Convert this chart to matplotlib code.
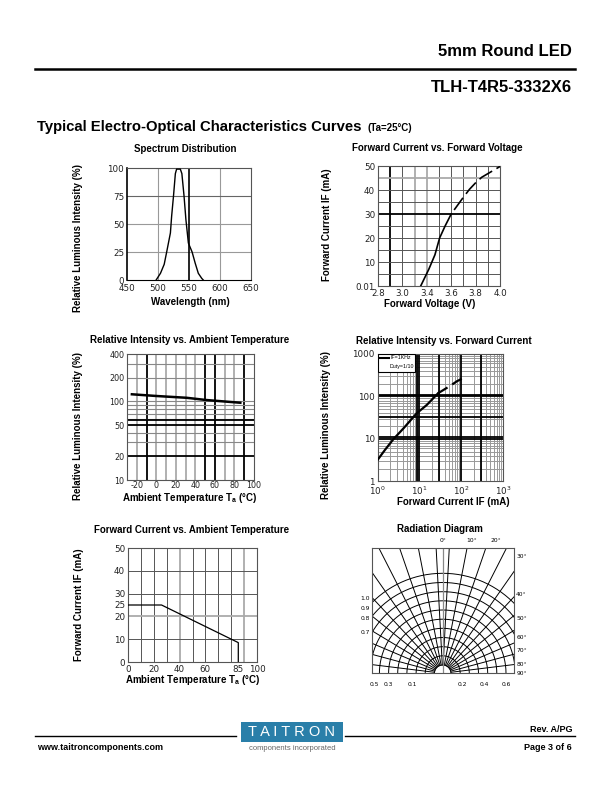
import numpy as np
import matplotlib
matplotlib.use('Agg')
import matplotlib.pyplot as plt
from matplotlib.patches import Rectangle
from matplotlib.lines import Line2D

W, H = 612, 792
plt.rcParams['font.family'] = ['Liberation Sans', 'DejaVu Sans']
plt.rcParams['axes.unicode_minus'] = False
plt.rcParams['mathtext.fontset'] = 'custom'
plt.rcParams['mathtext.rm'] = 'Liberation Sans:bold'
plt.rcParams['mathtext.sf'] = 'DejaVu Sans'

# ---- data ----
# spectrum distribution
wavelength = [497, 504, 510, 514, 520, 522, 525, 528, 530, 536, 538.5, 542, 545, 549, 555, 560, 565, 570.5, 573]
spectrum = [0, 6, 14, 25, 42, 57, 75, 95, 99, 99, 95, 75, 54, 33, 25, 15, 6, 1.5, 0]

# forward current vs forward voltage
vf_solid = [3.22, 3.30, 3.36, 3.406, 3.46, 3.52]
if_solid = [0, 7, 13, 20, 25, 30]
vf_dash = [3.52, 3.58, 3.64, 3.70, 3.76, 3.82, 3.90, 4.0]
if_dash = [30, 33.5, 37, 40.3, 43, 45.3, 47.3, 49.8]
vf_ticks = [2.8, 3.04, 3.28, 3.52, 3.76, 4.0]
vf_labels = ['2.8', '3.0', '3.4', '3.6', '3.8', '4.0']
if_ticks = [0, 10, 20, 30, 40, 50]
if_labels = ['0.01', '10', '20', '30', '40', '50']

# relative intensity vs ambient temperature
temp_c = [-25, 0, 31, 51, 86]
rel_temp = [123, 117, 111, 104, 96]

# relative intensity vs forward current
if_log_solid = [1, 1.5, 2.4, 4.2, 8.6, 15, 28]
rel_log_solid = [3.2, 5.5, 9.9, 17.9, 40, 63, 119]
if_log_dash = [28, 54, 80, 125]
rel_log_dash = [119, 177, 230, 285]

# forward current derating
ta_derate = [0, 26, 85.5, 85.5]
if_derate = [25, 25, 8.5, 0]

# radiation diagram grid
ring_radius = [0.083, 0.175, 0.266, 0.358, 0.45, 0.541, 0.633, 0.725, 0.816, 0.908, 1.0]
ray_angle = [3, 11, 19, 27, 35, 43, 51, 59, 67, 75, 83]

fig = plt.figure(figsize=(W / 100, H / 100), dpi=100)


def px_axes(l, t, r, b):
    return fig.add_axes([l / W, 1 - b / H, (r - l) / W, (b - t) / H])


def ftext(x, y, s, **kw):
    fig.text(x / W, 1 - y / H, s, **kw)


def fline(x0, x1, y, lw):
    fig.add_artist(Line2D([x0 / W, x1 / W], [1 - y / H, 1 - y / H], lw=lw, color='black'))


def base(ax, size=6.3, xpad=3):
    ax.tick_params(length=0, pad=2, labelsize=size, labelcolor='#222')
    ax.tick_params(axis='x', pad=xpad)
    for lab in ax.get_xticklabels() + ax.get_yticklabels():
        lab.set_family('DejaVu Sans')
    for s in ax.spines.values():
        s.set_color('#555')
        s.set_linewidth(0.8)


DARK = dict(color='#555', lw=0.7, zorder=1)
LIGHT = dict(color='#aaa', lw=1.3, zorder=1)
BLACK = dict(color='black', lw=1.3, zorder=1)
TITLE = dict(fontsize=7, fontweight='bold', ha='center', va='center')
LABEL = dict(fontsize=7, fontweight='bold', ha='center', va='center')

# ---- header ----
ftext(572, 52, '5mm Round LED', fontsize=12, fontweight='bold', ha='right', va='center')
fline(35, 575, 69, 1.8)
ftext(572, 87, 'TLH-T4R5-3332X6', fontsize=12, fontweight='bold', ha='right', va='center')
ftext(37, 127, 'Typical Electro-Optical Characteristics Curves', fontsize=10.7, fontweight='bold',
      ha='left', va='center')
ftext(368, 128, '(Ta=25°C)', fontsize=7, fontweight='bold', ha='left', va='center')

# ---- spectrum distribution ----
ax = px_axes(127, 168, 251, 280)
ax.plot(wavelength, spectrum, color='black', lw=1.0, zorder=3)
ax.set_xlim(450, 650)
ax.set_ylim(0, 100)
ax.set_xticks([450, 500, 550, 600, 650])
ax.set_yticks([0, 25, 50, 75, 100])
for v in [500, 600]:
    ax.axvline(v, color='#999', lw=0.8, zorder=1)
ax.axvline(550, color='black', lw=1.2, zorder=2)
for v in [25, 50]:
    ax.axhline(v, color='#999', lw=0.8, zorder=1)
ax.axhline(75, color='#666', lw=0.8, zorder=1)
base(ax)
ax.spines['left'].set_color('black')
ax.spines['left'].set_linewidth(1.2)
ax.spines['bottom'].set_color('black')
ftext(185, 149, 'Spectrum Distribution', **TITLE)
ftext(78, 238, 'Relative Luminous Intensity (%)', rotation=90, **LABEL)
ftext(190, 302, 'Wavelength (nm)', **LABEL)

# ---- forward current vs forward voltage ----
ax = px_axes(378, 166, 500, 286)
ax.plot(vf_solid, if_solid, color='black', lw=1.2, zorder=3)
ax.plot(vf_dash, if_dash, color='black', lw=1.2, zorder=3, linestyle=(9, (9, 3)))
ax.set_xlim(2.8, 4.0)
ax.set_ylim(0, 50)
ax.set_xticks(vf_ticks)
ax.set_xticklabels(vf_labels)
ax.set_yticks(if_ticks)
ax.set_yticklabels(if_labels)
for k in range(1, 10):
    x = 2.8 + 0.12 * k
    ax.axvline(x, **(BLACK if k == 1 else LIGHT if k in (3, 4) else DARK))
for y in range(5, 50, 5):
    ax.axhline(y, **(BLACK if y == 30 else LIGHT if y == 45 else DARK))
base(ax, xpad=2)
ftext(437, 148, 'Forward Current vs. Forward Voltage', **TITLE)
ftext(327, 225, 'Forward Current IF (mA)', rotation=90, **LABEL)
ftext(430, 304, 'Forward Voltage (V)', **LABEL)

# ---- relative intensity vs ambient temperature ----
ax = px_axes(127, 354, 254, 480)
ax.plot(temp_c, rel_temp, color='black', lw=1.8, zorder=3)
ax.set_yscale('log')
ax.set_xlim(-30, 100)
ax.set_ylim(10, 400)
ax.set_xticks([-20, 0, 20, 40, 60, 80, 100])
ax.set_xticklabels(['-20', '0', '20', '40', '60', '80', '100'])
ax.set_yticks([10, 20, 50, 100, 200, 400])
ax.set_yticklabels(['10', '20', '50', '100', '200', '400'])
ax.minorticks_off()
for x in range(-20, 100, 10):
    ax.axvline(x, **(BLACK if x in (-10, 50, 60, 90) else LIGHT))
for y in [30, 40, 60, 70, 80, 90, 100, 200, 300]:
    ax.axhline(y, color='#888', lw=0.8, zorder=1)
for y in [20, 50, 58]:
    ax.axhline(y, **BLACK)
base(ax, size=5.8, xpad=1)
ftext(190, 340, 'Relative Intensity vs. Ambient Temperature', **TITLE)
ftext(78, 426, 'Relative Luminous Intensity (%)', rotation=90, **LABEL)
ftext(190, 498, r'Ambient Temperature T$_\mathrm{a}$ (°C)', **LABEL)

# ---- relative intensity vs forward current ----
ax = px_axes(377.5, 354, 503, 481.5)
ax.plot(if_log_solid, rel_log_solid, color='black', lw=1.6, zorder=3)
ax.plot(if_log_dash, rel_log_dash, color='black', lw=1.6, zorder=3, linestyle=(0, (5, 2.5)))
ax.set_xscale('log')
ax.set_yscale('log')
ax.set_xlim(1, 1000)
ax.set_ylim(1, 1000)
ax.set_xticks([1, 10, 100, 1000])
ax.set_xticklabels([r'$\mathsf{10^{0}}$', r'$\mathsf{10^{1}}$', r'$\mathsf{10^{2}}$', r'$\mathsf{10^{3}}$'])
ax.set_yticks([1, 10, 100, 1000])
ax.set_yticklabels(['1', '10', '100', '1000'])
ax.minorticks_off()
for dec in [1, 10, 100]:
    for m in range(2, 10):
        ax.axvline(dec * m, color='#999', lw=0.7, zorder=1)
        ax.axhline(dec * m, color='#999', lw=0.7, zorder=1)
for v in [9, 10, 30, 100, 300]:
    ax.axvline(v, **BLACK)
for v in [10, 11, 33, 100, 110]:
    ax.axhline(v, **BLACK)
base(ax, xpad=2)
ax.add_patch(Rectangle((0.0, 0.855), 0.3, 0.145, transform=ax.transAxes, facecolor='white',
                       edgecolor='black', lw=0.8, zorder=5))
ax.add_line(Line2D([0.02, 0.09], [0.97, 0.97], transform=ax.transAxes, color='black', lw=1.5, zorder=6))
ax.text(0.1, 0.97, 'IF=1KHz', transform=ax.transAxes, fontsize=3.8, va='center', ha='left', zorder=6)
ax.text(0.1, 0.9, 'Duty=1/10', transform=ax.transAxes, fontsize=3.8, va='center', ha='left', zorder=6)
ftext(444, 341, 'Relative Intensity vs. Forward Current', **TITLE)
ftext(326, 425, 'Relative Luminous Intensity (%)', rotation=90, **LABEL)
ftext(453, 502, 'Forward Current IF (mA)', **LABEL)

# ---- forward current vs ambient temperature ----
ax = px_axes(128, 548, 257, 662)
ax.plot(ta_derate, if_derate, color='black', lw=0.9, zorder=3)
ax.set_xlim(0, 100)
ax.set_ylim(0, 50)
ax.set_xticks([0, 20, 40, 60, 85, 100])
ax.set_yticks([0, 10, 20, 25, 30, 40, 50])
for x in range(10, 100, 10):
    ax.axvline(x, **(LIGHT if x in (40, 90) else DARK))
for y in [10, 20, 30, 40]:
    ax.axhline(y, **(LIGHT if y == 20 else DARK))
base(ax, xpad=2)
ftext(192, 530, 'Forward Current vs. Ambient Temperature', **TITLE)
ftext(79, 605, 'Forward Current IF (mA)', rotation=90, **LABEL)
ftext(193, 680, r'Ambient Temperature T$_\mathrm{a}$ (°C)', **LABEL)

# ---- radiation diagram ----
ax = px_axes(371.7, 548.3, 514.3, 673.3)
ax.set_xlim(-0.71, 0.716)
ax.set_ylim(0, 1.25)
ax.set_xticks([])
ax.set_yticks([])
th = np.linspace(0, np.pi, 300)
for r in ring_radius:
    ax.plot(r * np.cos(th), r * np.sin(th), color='black', lw=0.7)
for a in ray_angle:
    for sgn in (-1, 1):
        t = np.radians(90 - sgn * a)
        ax.plot([ring_radius[0] * np.cos(t), 2 * np.cos(t)],
                [ring_radius[0] * np.sin(t), 2 * np.sin(t)], color='black', lw=0.7)
ax.axvline(0, color='#888', lw=0.9)
for s in ax.spines.values():
    s.set_color('#555')
    s.set_linewidth(0.8)
small = dict(fontsize=4.3, family='DejaVu Sans', clip_on=False)
for lab, y in zip(['1.0', '0.9', '0.8', '0.7'], [0.743, 0.653, 0.543, 0.403]):
    ax.text(-0.777, y, lab, ha='center', va='center', **small)
for lab, x in zip(['0.5', '0.3', '0.1', '0.2', '0.4', '0.6'], [-0.68, -0.54, -0.3, 0.2, 0.42, 0.64]):
    ax.text(x, -0.107, lab, ha='center', va='center', **small)
for lab, x in zip(['0°', '10°', '20°'], [0, 0.29, 0.533]):
    ax.text(x, 1.33, lab, ha='center', va='center', **small)
for lab, y in zip(['30°', '40°', '50°', '60°', '70°', '80°', '90°'],
                  [1.166, 0.783, 0.543, 0.356, 0.223, 0.083, 0.0]):
    ax.text(0.735, y, lab, ha='left', va='center', **small)
ftext(440, 529, 'Radiation Diagram', **TITLE)

# ---- footer ----
fline(35, 236, 736, 1.0)
fline(345, 575, 736, 1.0)
fig.add_artist(Rectangle((241 / W, 1 - 742 / H), 102 / W, 20 / H, transform=fig.transFigure,
                         facecolor='#2a7fa9', edgecolor='none'))
ftext(292, 732, 'T A I T R O N', fontsize=10.5, color='white', ha='center', va='center')
ftext(292, 748, 'components incorporated', fontsize=5.5, color='#666', ha='center', va='center')
ftext(572, 729, 'Rev. A/PG', fontsize=6.5, fontweight='bold', ha='right', va='center')
ftext(37, 748, 'www.taitroncomponents.com', fontsize=6.5, fontweight='bold', ha='left', va='center')
ftext(572, 748, 'Page 3 of 6', fontsize=6.5, fontweight='bold', ha='right', va='center')

fig.savefig('out.png', dpi=100)
